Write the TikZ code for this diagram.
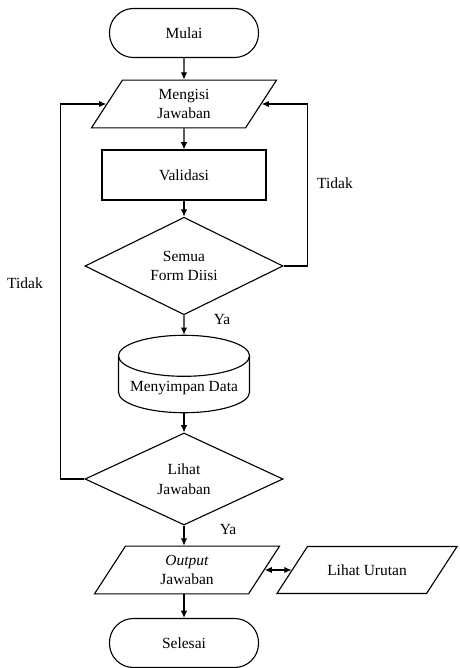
\documentclass[tikz,border=0pt]{standalone}
\usepackage{fontspec}
\setmainfont{Liberation Serif}
\usetikzlibrary{shapes.geometric, arrows.meta}
\begin{document}
\begin{tikzpicture}[
  x=0.025cm,
  y=-0.025cm,
  font=\fontsize{11}{14}\selectfont,
  thick,
  >={Latex[length=1.8mm,width=1.6mm]},
  every node/.style={align=center},
  terminal/.style={draw, rectangle, rounded corners=0.6cm,
    minimum width=3.725cm, minimum height=1.225cm},
  proses/.style={draw, rectangle, minimum width=4.1cm, minimum height=1.25cm},
  masukan/.style={draw, trapezium, trapezium left angle=57,
    trapezium right angle=123, trapezium stretches body,
    inner ysep=0.22cm, minimum width=4.625cm},
  keputusan/.style={draw, diamond, inner sep=0pt,
    minimum width=4.95cm, minimum height=2.3cm},
  basisdata/.style={draw, cylinder, shape border rotate=90, aspect=0.35,
    minimum width=3.275cm, minimum height=1.45cm, anchor=shape center}]
\useasboundingbox (0,0) rectangle (459,668);
\node[terminal] (mulai) at (184,33) {Mulai};
\node[masukan] (isi) at (184,104) {Mengisi\\Jawaban};
\node[proses] (valid) at (184,175) {Validasi};
\node[keputusan] (semua) at (184,266) {Semua\\Form Diisi};
\node[basisdata] (simpan) at (184,374) {Menyimpan Data};
\node[keputusan] (lihat) at (184,479) {Lihat\\Jawaban};
\node[masukan] (output) at (187,570) {\textit{Output}\\Jawaban};
\node[masukan, inner ysep=0.45cm, minimum width=4.5cm] (urutan) at (367,570) {Lihat Urutan};
\node[terminal] (selesai) at (184,643) {Selesai};
% label cabang
\node (tidakkanan) at (335,183) {Tidak};
\node (tidakkiri) at (25,283) {Tidak};
\node (yasatu) at (222,320) {Ya};
\node (yadua) at (228,530) {Ya};
\draw[->] (mulai) -- (isi);
\draw[->] (isi) -- (valid);
\draw[->] (valid) -- (semua);
\draw[->] (semua.south) -- (simpan.north);
\draw[->] (simpan.south) -- (lihat.north);
\draw[->] (lihat.south) -- (lihat.south |- output.north);
\draw[->] (output.south -| selesai) -- (selesai.north);
\draw[<->] (output.right side) -- (urutan.left side);
\draw[->] (semua.east) -- ++(24,0) |- (isi.right side);
\draw[->] (lihat.west) -- ++(-24,0) |- (isi.left side);
\end{tikzpicture}
\end{document}
